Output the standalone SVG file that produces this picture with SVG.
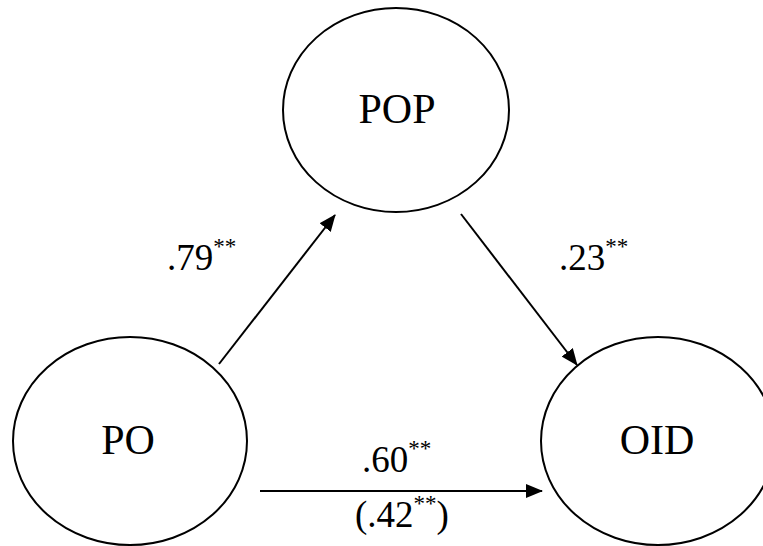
<svg xmlns="http://www.w3.org/2000/svg" width="763" height="546" viewBox="0 0 763 546">
<style>
.node{fill:#fff;stroke:#000;stroke-width:2}
.nt{font-family:'Liberation Serif','Times New Roman','DejaVu Serif',serif;font-size:42px;fill:#000;text-anchor:middle}
.lb{font-family:'Liberation Serif','Times New Roman','DejaVu Serif',serif;font-size:37px;fill:#000}
.sup{font-size:23px}
.edge{stroke:#000;stroke-width:2;fill:none}
</style>
<defs>
<marker id="ah" markerWidth="17" markerHeight="14" refX="16" refY="7" orient="auto" markerUnits="userSpaceOnUse">
<path d="M0,0 L17,7 L0,14 Z" fill="#000"/>
</marker>
</defs>
<rect width="763" height="546" fill="#fff"/>
<g id="POP"><ellipse class="node" cx="396" cy="110" rx="113" ry="102"/><text class="nt" x="397" y="123">POP</text></g>
<g id="PO"><ellipse class="node" cx="130" cy="441" rx="117" ry="104"/><text class="nt" x="128" y="454">PO</text></g>
<g id="OID"><ellipse class="node" cx="658" cy="441" rx="117" ry="104"/><text class="nt" x="657" y="454">OID</text></g>
<g id="connectors">
<line class="edge" x1="219" y1="364" x2="335" y2="215" marker-end="url(#ah)"/>
<line class="edge" x1="461" y1="214" x2="577" y2="365" marker-end="url(#ah)"/>
<line class="edge" x1="260" y1="491" x2="542" y2="491" marker-end="url(#ah)"/>
</g>
<g id="labels">
<text class="lb" x="167" y="270">.79<tspan class="sup" dy="-16">**</tspan></text>
<text class="lb" x="559" y="270">.23<tspan class="sup" dy="-16">**</tspan></text>
<text class="lb" x="362" y="472">.60<tspan class="sup" dy="-16">**</tspan></text>
<text class="lb" x="355" y="527">(.42<tspan class="sup" dy="-16">**</tspan><tspan dy="16">)</tspan></text>
</g>
</svg>
